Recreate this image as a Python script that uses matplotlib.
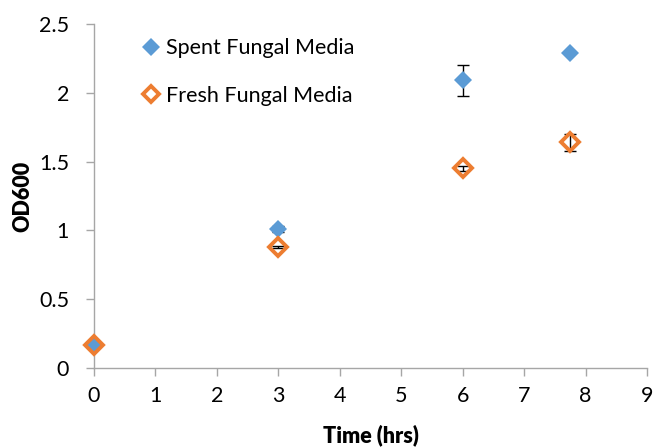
import numpy as np
import matplotlib
matplotlib.use("Agg")
from matplotlib import pyplot as plt
from matplotlib.lines import Line2D

plt.rcParams['font.family'] = ['Lato', 'DejaVu Sans']

time_hrs = np.array([0, 3, 6, 7.75])
spent_od = np.array([0.17, 1.01, 2.09, 2.29])
spent_err = np.array([0.0, 0.02, 0.11, 0.0])
fresh_od = np.array([0.17, 0.88, 1.45, 1.64])
fresh_err = np.array([0.0, 0.01, 0.02, 0.06])

blue = '#5B9BD5'
orange = '#ED7D31'
grey = '#A6A6A6'
fs = 15.5

fig = plt.figure(figsize=(6.57, 4.48), dpi=100)
ax = fig.add_axes([94/657, 1 - 368/448, (647-94)/657, (368-24)/448])

# error bars only where there is a spread
for od, err in [(spent_od, spent_err), (fresh_od, fresh_err)]:
    m = err > 0
    ax.errorbar(time_hrs[m], od[m], yerr=err[m], fmt='none', ecolor='black',
                elinewidth=1, capsize=4.5, capthick=1, zorder=2)

ax.plot(time_hrs, spent_od, 'D', color=blue, ms=9.5, mew=0, clip_on=False, zorder=3)
ax.plot(time_hrs, fresh_od, 'D', mfc='none', mec=orange, mew=2.8, ms=9.5,
        clip_on=False, zorder=4)

ax.set_xlim(0, 9)
ax.set_ylim(0, 2.5)
ax.set_xticks(np.arange(0, 10, 1))
ax.set_yticks([0, 0.5, 1, 1.5, 2, 2.5])
ax.set_yticklabels(['0', '0.5', '1', '1.5', '2', '2.5'])
ax.set_xlabel('Time (hrs)', fontsize=fs, fontweight='heavy', labelpad=13)
ax.set_ylabel('OD600', fontsize=fs, fontweight='heavy', labelpad=4)
ax.tick_params(labelsize=fs, color=grey, length=6, width=1, direction='out')
ax.tick_params(axis='x', pad=7)
ax.tick_params(axis='y', pad=12)
for s in ['top', 'right']:
    ax.spines[s].set_visible(False)
for s in ['left', 'bottom']:
    ax.spines[s].set_color(grey)
    ax.spines[s].set_linewidth(1)

handles = [
    Line2D([], [], ls='none', marker='D', color=blue, ms=9, mew=0),
    Line2D([], [], ls='none', marker='D', mfc='none', mec=orange, mew=2.8, ms=8),
]
ax.legend(handles, ['Spent Fungal Media', 'Fresh Fungal Media'],
          loc='upper left', bbox_to_anchor=(0.065, 0.983), frameon=False,
          fontsize=fs, handletextpad=0.06, labelspacing=1.28, handlelength=1.2,
          borderaxespad=0)

fig.savefig('out.png', dpi=100)
